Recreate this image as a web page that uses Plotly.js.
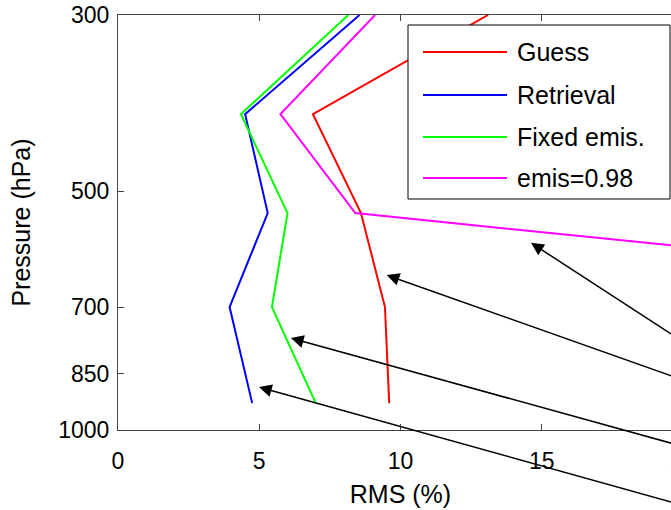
<!DOCTYPE html>
<html>
<head>
<meta charset="utf-8">
<script src="https://cdn.plot.ly/plotly-3.0.1.min.js"></script>
<style>
html, body { margin: 0; padding: 0; overflow: hidden; background: #fff; }
#chart { width: 700px; height: 510px; }
</style>
</head>
<body>
<div id="chart"></div>
<script>
// Pressure levels (hPa)
const levels = [300, 400, 533, 700, 925];
const levelsEmis = [300, 400, 533, 700];
// RMS (%) values
const guess = [13.1, 6.9, 8.6, 9.45, 9.6];
const retrieval = [8.55, 4.5, 5.3, 3.95, 4.75];
const fixedEmis = [8.15, 4.35, 6.0, 5.45, 7.0];
const emis098 = [9.1, 5.75, 8.4, 41];
const seriesNames = ['Guess', 'Retrieval', 'Fixed emis.', 'emis=0.98'];
// tick labels
const xTicks = [0, 5, 10, 15, 20];
const yTicks = [300, 500, 700, 850, 1000];
// arrow head locations (RMS %, hPa)
const arrowX = [14.62, 9.51, 6.12, 4.99];
const arrowP = [581, 638, 766, 883];

const colors = ['#ff0000', '#0000ff', '#00ff00', '#ff00ff'];
const xs = [guess, retrieval, fixedEmis, emis098];
const ys = [levels, levels, levels, levelsEmis];

const traces = xs.map((x, i) => ({
  type: 'scatter', mode: 'lines', x: x, y: ys[i], name: seriesNames[i],
  showlegend: false,
  line: { color: colors[i], width: 2 }
}));

const tails = [[220, 110], [330, 111], [430, 113], [460, 127]];
const annotations = arrowX.map((x, i) => ({
  x: x, y: Math.log10(arrowP[i]), xref: 'x', yref: 'y', text: '',
  showarrow: true, arrowhead: 2, arrowsize: 1.7, arrowwidth: 1.5, arrowcolor: '#000',
  ax: tails[i][0], ay: tails[i][1]
}));

const font = { family: 'Liberation Sans, Arial, sans-serif', color: '#000' };

// Legend drawn in paper coordinates (long line samples like the original)
const legBox = { x0: 0.5133, x1: 0.977, y0: 0.5566, y1: 0.9759 };
const legRows = [0.9108, 0.8072, 0.706, 0.6072];
const legLineX = [0.5398, 0.6885];
const legTextX = 0.7027;

const shapes = [{
  type: 'rect', xref: 'paper', yref: 'paper',
  x0: legBox.x0, x1: legBox.x1, y0: legBox.y0, y1: legBox.y1,
  fillcolor: '#fff', line: { color: '#000', width: 1 }, layer: 'above'
}];
seriesNames.forEach((n, i) => {
  shapes.push({
    type: 'line', xref: 'paper', yref: 'paper',
    x0: legLineX[0], x1: legLineX[1], y0: legRows[i], y1: legRows[i],
    line: { color: colors[i], width: 2 }, layer: 'above'
  });
  annotations.push({
    xref: 'paper', yref: 'paper', x: legTextX, y: legRows[i],
    xanchor: 'left', yanchor: 'middle', showarrow: false, text: n,
    font: Object.assign({ size: 25 }, font)
  });
});

const layout = {
  width: 700, height: 510,
  margin: { l: 118, r: 17, t: 15, b: 80 },
  paper_bgcolor: '#fff', plot_bgcolor: '#fff',
  font: Object.assign({ size: 23 }, font),
  showlegend: false,
  xaxis: {
    range: [0, 20], tickvals: xTicks, ticktext: xTicks.map(String),
    ticks: 'inside', ticklen: 6, tickcolor: '#444', showline: true, linecolor: '#444',
    mirror: 'ticks', showgrid: false, zeroline: false, ticklabelstandoff: 10,
    tickfont: Object.assign({ size: 23 }, font),
    title: { text: 'RMS (%)', font: Object.assign({ size: 25 }, font), standoff: 12 }
  },
  yaxis: {
    type: 'log', range: [Math.log10(1000), Math.log10(300)],
    tickvals: yTicks, ticktext: yTicks.map(String),
    ticks: 'inside', ticklen: 6, tickcolor: '#444', showline: true, linecolor: '#444',
    mirror: 'ticks', showgrid: false, zeroline: false, ticklabelstandoff: 3,
    tickfont: Object.assign({ size: 23 }, font),
    title: { text: 'Pressure (hPa)', font: Object.assign({ size: 25 }, font), standoff: 20 }
  },
  shapes: shapes,
  annotations: annotations
};

Plotly.newPlot('chart', traces, layout, { displayModeBar: false, staticPlot: true });
</script>
</body>
</html>
